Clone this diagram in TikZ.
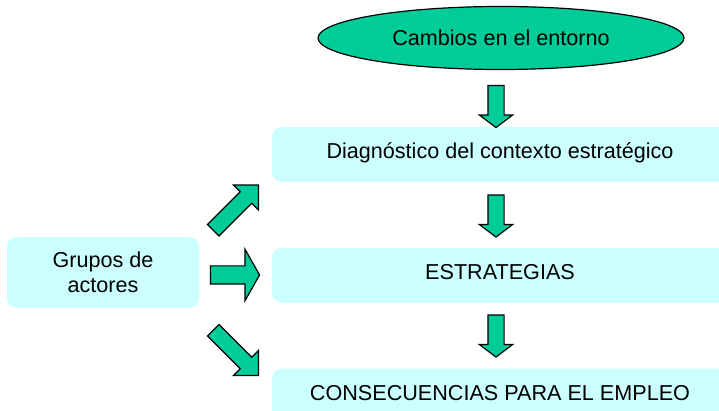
\documentclass[tikz,border=0pt]{standalone}
\usepackage{fontspec}
\setmainfont{Liberation Sans}
\usetikzlibrary{shapes.geometric,shapes.arrows,positioning}
\definecolor{mintgreen}{RGB}{0,204,153}
\definecolor{paleblue}{RGB}{204,255,255}

\begin{document}
\begin{tikzpicture}[
    x=0.5pt, y=-0.5pt,
    node distance=32.5pt,
    every node/.style={font=\fontsize{10.8}{12.5}\selectfont},
    event/.style={ellipse, draw, fill=mintgreen, line width=0.6pt,
                  minimum width=183pt, minimum height=31.5pt, inner sep=0pt},
    stage/.style={rectangle, fill=paleblue, rounded corners=5pt,
                  minimum width=228pt, minimum height=27.5pt, align=center,
                  text height=8pt, text depth=4pt},
    actors/.style={rectangle, fill=paleblue, rounded corners=5pt,
                   minimum width=96pt, minimum height=35.5pt, align=center},
    blockarrow/.style={single arrow, draw, fill=mintgreen, line width=0.6pt,
                       inner xsep=0pt},
    downarrow/.style={blockarrow, rotate=-90, inner ysep=3.75pt,
                      minimum width=16pt, minimum height=21pt,
                      single arrow head extend=4.25pt, single arrow tip angle=106},
    sidearrow/.style={blockarrow, inner ysep=4.25pt,
                      minimum width=25pt, minimum height=24.5pt,
                      single arrow head extend=8.25pt, single arrow tip angle=121},
    slantarrow/.style={blockarrow, inner ysep=3.75pt,
                       minimum width=17pt, minimum height=32pt,
                       single arrow head extend=4.75pt, single arrow tip angle=90},
]

\useasboundingbox (0,0) rectangle (719,411);
\clip (0,0) rectangle (719,411);

% Main column
\node[event] (ell) at (501,38) {Cambios en el entorno};
\node[stage] (diag) at (500,154.5) {Diagnóstico del contexto estratégico};
\node[stage, below=of diag] (strat) {ESTRATEGIAS};
\node[stage, below=of strat] (cons) {CONSECUENCIAS PARA EL EMPLEO};

% Actors
\node[actors] (grp) at (103,272.5) {Grupos de\\actores};

% Block arrows
\node[downarrow] (a1) at (496,103.5) {};
\node[downarrow] (a2) at (496,213) {};
\node[downarrow] (a3) at (496,333) {};
\node[slantarrow, rotate=45] (up) at (233,210.5) {};
\node[sidearrow] (mid) at (232.5,275) {};
\node[slantarrow, rotate=-45] (dn) at (233,350) {};

\end{tikzpicture}
\end{document}
